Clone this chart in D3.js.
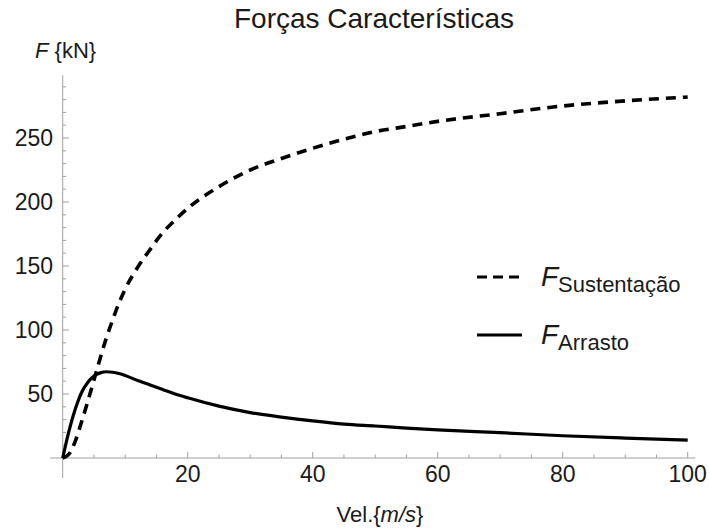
<!DOCTYPE html>
<html>
<head>
<meta charset="utf-8">
<script src="https://cdn.jsdelivr.net/npm/d3@7"></script>
<style>
  body { margin: 0; background: #fff; }
  text { font-family: "Liberation Sans", Arial, sans-serif; fill: #1a1a1a; }
</style>
</head>
<body>
<div id="grafico"></div>
<script>
// dados
var velocidade = [0, 1, 2, 3, 4, 5, 6, 7, 8, 9, 10, 12, 14, 16, 18, 20, 25, 30, 35, 40, 45, 50, 55, 60, 70, 80, 90, 100];
var sustentacao = [0, 3, 13, 28, 44, 61, 78, 94, 108, 121, 132, 149, 163, 176, 186, 195, 212, 225, 234, 242, 249, 255, 259, 263, 269, 275, 279, 282];
var arrasto = [0, 21, 38, 51, 59, 64, 66.5, 67.4, 67, 66, 64.5, 60.5, 57, 53.5, 50, 47, 40.5, 35.5, 32, 29, 26.5, 25, 23.4, 22, 19.8, 17.4, 15.6, 14];
var ticksX = [20, 40, 60, 80, 100];
var ticksY = [50, 100, 150, 200, 250];

var largura = 709, altura = 528;
var cinza = '#a0a0a0';

var svg = d3.select('#grafico').append('svg')
    .attr('width', largura)
    .attr('height', altura);

var x = d3.scaleLinear().domain([0, 100]).range([62.7, 687.7]);
var y = d3.scaleLinear().domain([0, 250]).range([458, 138]);

// eixos (estilo Mathematica: cruzam na origem)
svg.append('line')
    .attr('x1', x(-2)).attr('x2', x(101.2))
    .attr('y1', y(0)).attr('y2', y(0))
    .style('stroke', cinza).style('stroke-width', 1);
svg.append('line')
    .attr('x1', x(0)).attr('x2', x(0))
    .attr('y1', y(-15.6)).attr('y2', y(299))
    .style('stroke', cinza).style('stroke-width', 1);

// marcas menores e maiores
var menoresX = d3.range(5, 101, 5);
svg.append('g').selectAll('line')
    .data(menoresX)
    .enter()
    .append('line')
    .attr('x1', function(d) { return x(d); })
    .attr('x2', function(d) { return x(d); })
    .attr('y1', y(0))
    .attr('y2', function(d) { return y(0) - (d % 20 === 0 ? 6 : 3.5); })
    .style('stroke', cinza).style('stroke-width', 1);

var menoresY = d3.range(10, 300, 10);
svg.append('g').selectAll('line')
    .data(menoresY)
    .enter()
    .append('line')
    .attr('y1', function(d) { return y(d); })
    .attr('y2', function(d) { return y(d); })
    .attr('x1', x(0))
    .attr('x2', function(d) { return x(0) + (d % 50 === 0 ? 6 : 3.5); })
    .style('stroke', cinza).style('stroke-width', 1);

// rótulos dos eixos
svg.append('g').selectAll('text')
    .data(ticksX)
    .enter()
    .append('text')
    .text(function(d) { return d; })
    .attr('x', function(d) { return x(d); })
    .attr('y', y(0) + 24)
    .attr('text-anchor', 'middle')
    .style('font-size', '23px');

svg.append('g').selectAll('text')
    .data(ticksY)
    .enter()
    .append('text')
    .text(function(d) { return d; })
    .attr('x', 53)
    .attr('y', function(d) { return y(d) + 8; })
    .attr('text-anchor', 'end')
    .style('font-size', '23px');

// título e nomes dos eixos
svg.append('text')
    .text('Forças Características')
    .attr('x', 374).attr('y', 28)
    .attr('text-anchor', 'middle')
    .style('font-size', '28px');

var rotY = svg.append('text').attr('x', 35).attr('y', 58).style('font-size', '22px');
rotY.append('tspan').text('F').style('font-style', 'italic');
rotY.append('tspan').text(' {kN}');

var rotX = svg.append('text').attr('x', 380).attr('y', 522).attr('text-anchor', 'middle').style('font-size', '22px');
rotX.append('tspan').text('Vel.{');
rotX.append('tspan').text('m/s').style('font-style', 'italic');
rotX.append('tspan').text('}');

// curvas
var linha = d3.line()
    .x(function(d) { return x(d[0]); })
    .y(function(d) { return y(d[1]); })
    .curve(d3.curveMonotoneX);

svg.append('path')
    .datum(d3.zip(velocidade, sustentacao))
    .attr('d', linha)
    .style('fill', 'none')
    .style('stroke', '#000')
    .style('stroke-width', 3.6)
    .style('stroke-dasharray', '10,7');

svg.append('path')
    .datum(d3.zip(velocidade, arrasto))
    .attr('d', linha)
    .style('fill', 'none')
    .style('stroke', '#000')
    .style('stroke-width', 3.2);

// legenda
var legenda = [
    { nome: 'Sustentação', tracejado: '10,6', ly: 277 },
    { nome: 'Arrasto', tracejado: null, ly: 335 }
];
legenda.forEach(function(item) {
    svg.append('line')
        .attr('x1', 477).attr('x2', 522)
        .attr('y1', item.ly).attr('y2', item.ly)
        .style('stroke', '#000')
        .style('stroke-width', 3.2)
        .style('stroke-dasharray', item.tracejado);
    var t = svg.append('text').attr('x', 541).attr('y', item.ly + 9);
    t.append('tspan').text('F').style('font-style', 'italic').style('font-size', '28px');
    t.append('tspan').text(item.nome).attr('dy', 6).style('font-size', '22px');
});
</script>
</body>
</html>
